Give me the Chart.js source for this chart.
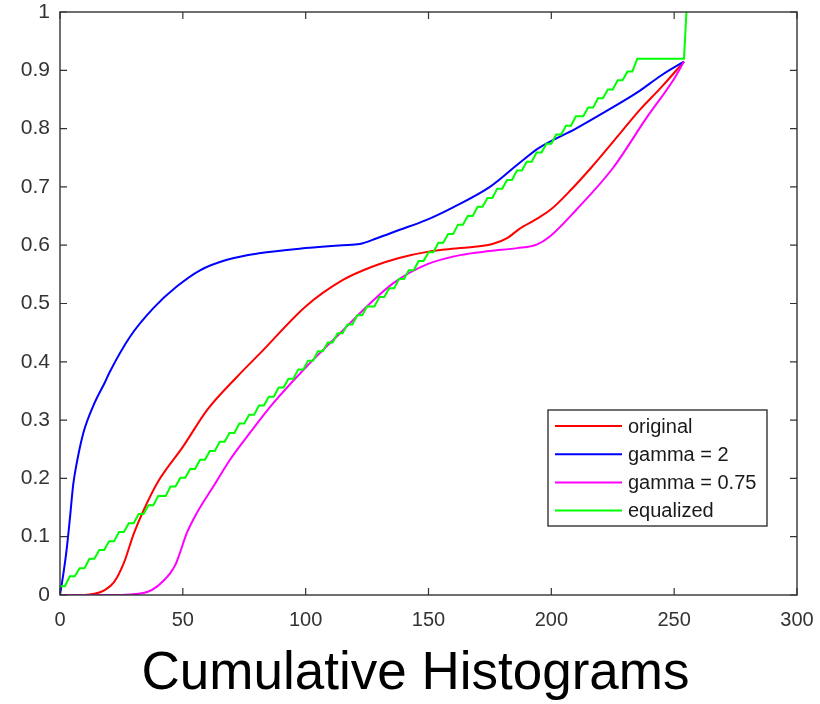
<!DOCTYPE html>
<html><head><meta charset="utf-8">
<script src="https://cdn.jsdelivr.net/npm/chart.js@4.4.0/dist/chart.umd.min.js"></script>
<style>html,body{margin:0;padding:0;background:#fff;}canvas{display:block;}</style>
</head><body>
<canvas id="c" width="820" height="704"></canvas>
<script>
const seriesLabels = ['original', 'gamma = 2', 'gamma = 0.75', 'equalized'];
const xTicks = [0, 50, 100, 150, 200, 250, 300];
const yTicks = [0, 0.1, 0.2, 0.3, 0.4, 0.5, 0.6, 0.7, 0.8, 0.9, 1];
const titleText = 'Cumulative Histograms';

const redX = [0, 10, 14, 18, 22, 26, 30, 34, 40, 50, 60, 72, 82, 100, 115, 127, 138, 150, 163, 176, 182, 187, 194, 200, 208, 216, 229, 236, 245, 254];
const redY = [0, 0, 0.002, 0.008, 0.022, 0.055, 0.105, 0.145, 0.195, 0.254, 0.318, 0.374, 0.417, 0.495, 0.54, 0.563, 0.578, 0.589, 0.595, 0.602, 0.612, 0.628, 0.645, 0.662, 0.695, 0.732, 0.797, 0.832, 0.872, 0.915];

const blueX = [0, 1.5, 2.7, 4, 5.4, 6.8, 9.5, 13.6, 18.3, 20.3, 28.5, 38, 47.5, 57, 68, 81, 100, 115, 122, 129, 138, 149, 160, 175, 187, 195, 210, 222, 235, 245, 254];
const blueY = [0, 0.04, 0.078, 0.13, 0.19, 0.226, 0.278, 0.325, 0.365, 0.383, 0.443, 0.492, 0.529, 0.557, 0.575, 0.586, 0.595, 0.6, 0.602, 0.612, 0.626, 0.643, 0.665, 0.7, 0.741, 0.767, 0.8, 0.829, 0.862, 0.892, 0.915];

const magX = [0, 25, 32, 36, 39.3, 42, 44.8, 47, 48.8, 51.6, 55.6, 62.4, 69.2, 77.3, 86.8, 100.4, 114, 126.2, 135.7, 149.3, 162.8, 175, 186, 194, 199.4, 210, 225, 239, 249.6, 254];
const magY = [0, 0, 0.002, 0.006, 0.014, 0.024, 0.037, 0.052, 0.072, 0.106, 0.14, 0.186, 0.232, 0.278, 0.329, 0.392, 0.449, 0.5, 0.535, 0.567, 0.583, 0.59, 0.595, 0.601, 0.615, 0.66, 0.732, 0.82, 0.883, 0.915];

// equalized: grey level where each step lands, and the cumulative level reached there
const greenStepX = [0, 4, 8, 12, 16, 20, 24, 28, 32, 36, 40, 45, 49, 53, 57, 61, 65, 69, 73, 77, 81, 85, 89, 93, 97, 101, 105, 109, 113, 117, 121, 125, 130, 134, 138, 142, 146, 150, 154, 158, 162, 166, 170, 174, 178, 182, 186, 190, 194, 198, 202, 206, 210, 215, 219, 223, 227, 231, 235, 255];
const greenLevel = [0.015, 0.032, 0.046, 0.062, 0.077, 0.092, 0.108, 0.123, 0.139, 0.154, 0.170, 0.186, 0.201, 0.216, 0.232, 0.247, 0.263, 0.278, 0.294, 0.309, 0.325, 0.340, 0.356, 0.371, 0.387, 0.402, 0.418, 0.433, 0.449, 0.464, 0.480, 0.495, 0.511, 0.526, 0.542, 0.557, 0.573, 0.588, 0.604, 0.619, 0.635, 0.650, 0.666, 0.681, 0.697, 0.712, 0.728, 0.743, 0.759, 0.774, 0.790, 0.805, 0.821, 0.836, 0.852, 0.867, 0.883, 0.898, 0.920, 1.0];

const pts = (xs, ys) => xs.map((v, i) => ({x: v, y: ys[i]}));
function stepPts(xs, ys) {
  const out = [{x: xs[0], y: ys[0]}];
  for (let i = 1; i < xs.length; i++) {
    const rise = (i === xs.length - 1) ? 1 : 2;
    out.push({x: xs[i] - rise, y: ys[i - 1]});
    out.push({x: xs[i], y: ys[i]});
  }
  return out;
}

const FONT = "'Liberation Sans', Arial, Helvetica, sans-serif";
const AX = '#333333';

const boxPlugin = {
  id: 'boxTicks',
  afterDatasetsDraw(chart) {
    const {ctx, chartArea: a, scales: {x, y}} = chart;
    ctx.save();
    ctx.strokeStyle = AX; ctx.lineWidth = 1.4;
    ctx.strokeRect(a.left, a.top, a.right - a.left, a.bottom - a.top);
    const L = 7;
    ctx.beginPath();
    x.ticks.forEach(t => {
      const px = x.getPixelForValue(t.value);
      ctx.moveTo(px, a.bottom); ctx.lineTo(px, a.bottom - L);
      ctx.moveTo(px, a.top); ctx.lineTo(px, a.top + L);
    });
    y.ticks.forEach(t => {
      const py = y.getPixelForValue(t.value);
      ctx.moveTo(a.left, py); ctx.lineTo(a.left + L, py);
      ctx.moveTo(a.right, py); ctx.lineTo(a.right - L, py);
    });
    ctx.lineWidth = 1.2;
    ctx.stroke();
    // legend box
    const lx = a.right - 249, ly = a.top + 398, lw = 219, lh = 116;
    ctx.fillStyle = '#fff';
    ctx.fillRect(lx, ly, lw, lh);
    ctx.lineWidth = 1.4; ctx.strokeStyle = AX;
    ctx.strokeRect(lx, ly, lw, lh);
    ctx.font = '20px ' + FONT;
    ctx.textBaseline = 'middle';
    ctx.textAlign = 'left';
    chart.data.datasets.forEach((ds, i) => {
      const yy = ly + 16 + i * 28.2;
      ctx.strokeStyle = ds.borderColor; ctx.lineWidth = 2;
      ctx.beginPath(); ctx.moveTo(lx + 7, yy); ctx.lineTo(lx + 74, yy); ctx.stroke();
      ctx.fillStyle = '#1a1a1a';
      ctx.fillText(ds.label, lx + 80, yy + 1);
    });
    // title below the axes
    ctx.font = '53px ' + FONT;
    ctx.fillStyle = '#000';
    ctx.textAlign = 'center';
    ctx.textBaseline = 'alphabetic';
    ctx.fillText(titleText, (a.left + a.right) / 2 - 13, a.bottom + 94);
    ctx.restore();
  }
};

const colors = ['#ff0000', '#0000ff', '#ff00ff', '#00ff00'];
const data = {
  datasets: [
    {label: seriesLabels[0], data: pts(redX, redY), borderColor: colors[0], order: 3, cubicInterpolationMode: 'monotone'},
    {label: seriesLabels[1], data: pts(blueX, blueY), borderColor: colors[1], order: 2, cubicInterpolationMode: 'monotone'},
    {label: seriesLabels[2], data: pts(magX, magY), borderColor: colors[2], order: 1, cubicInterpolationMode: 'monotone'},
    {label: seriesLabels[3], data: stepPts(greenStepX, greenLevel), borderColor: colors[3], order: 0, tension: 0}
  ].map(d => Object.assign({borderWidth: 2, pointRadius: 0, fill: false}, d))
};

new Chart(document.getElementById('c'), {
  type: 'line',
  data,
  options: {
    responsive: false, animation: false, devicePixelRatio: 1,
    layout: {padding: {left: 0, right: 23, top: 12, bottom: 67}},
    plugins: {
      legend: {display: false}, tooltip: {enabled: false}, title: {display: false}
    },
    scales: {
      x: {
        type: 'linear', min: 0, max: 300,
        afterBuildTicks: s => { s.ticks = xTicks.map(v => ({value: v})); },
        afterFit: s => { s.height = 42; s.paddingLeft = 0; s.paddingRight = 0; },
        grid: {display: false, drawTicks: false}, border: {display: false},
        ticks: {color: AX, font: {family: FONT, size: 20}, padding: 13, maxRotation: 0,
          callback: v => String(v)}
      },
      y: {
        type: 'linear', min: 0, max: 1,
        afterBuildTicks: s => { s.ticks = yTicks.map(v => ({value: v})); },
        afterFit: s => { s.width = 60; s.paddingTop = 0; s.paddingBottom = 0; },
        grid: {display: false, drawTicks: false}, border: {display: false},
        ticks: {color: AX, font: {family: FONT, size: 21}, padding: 10,
          callback: v => String(Number(v.toFixed(1)))}
      }
    }
  },
  plugins: [boxPlugin]
});
</script>
</body></html>
